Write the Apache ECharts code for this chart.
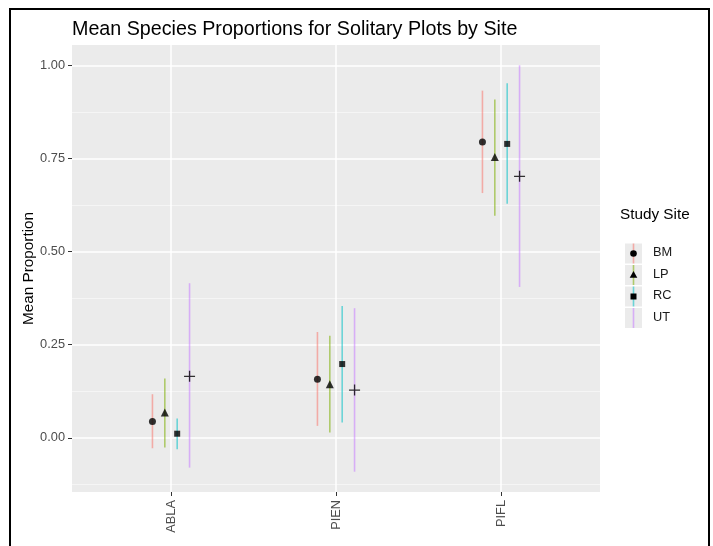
<!DOCTYPE html>
<html>
<head>
<meta charset="utf-8">
<script src="https://cdn.jsdelivr.net/npm/echarts@6/dist/echarts.min.js"></script>
<style>html,body{margin:0;padding:0;background:#fff}#c{width:713px;height:546px}</style>
</head>
<body>
<div id="c"></div>
<script>
const categories = ['ABLA', 'PIEN', 'PIFL'];
const sites = ['BM', 'LP', 'RC', 'UT'];
const meanBM = [0.044, 0.157, 0.794];
const lowBM  = [-0.028, 0.032, 0.657];
const highBM = [0.117, 0.284, 0.932];
const meanLP = [0.068, 0.144, 0.754];
const lowLP  = [-0.026, 0.014, 0.596];
const highLP = [0.159, 0.274, 0.908];
const meanRC = [0.011, 0.198, 0.789];
const lowRC  = [-0.031, 0.041, 0.628];
const highRC = [0.052, 0.354, 0.952];
const meanUT = [0.165, 0.128, 0.702];
const lowUT  = [-0.080, -0.091, 0.405];
const highUT = [0.415, 0.348, 1.000];
const yTicks = [0, 0.25, 0.5, 0.75, 1];
const yMinorTicks = [-0.125, 0.125, 0.375, 0.625, 0.875];

const means = [meanBM, meanLP, meanRC, meanUT];
const lows = [lowBM, lowLP, lowRC, lowUT];
const highs = [highBM, highLP, highRC, highUT];
const colors = ['rgba(248,118,109,0.55)', 'rgba(124,174,0,0.55)', 'rgba(0,191,196,0.55)', 'rgba(199,124,255,0.55)'];
const dodge = [-0.1125, -0.0375, 0.0375, 0.1125];
const plusPath = 'path://M0,4.4H10V5.6H0Z M4.4,0H5.6V10H4.4Z';
const symbols = ['circle', 'triangle', 'rect', plusPath];
const symbolSizes = [7, 8, 6, 11];
const FONT = 'Liberation Sans, Arial, sans-serif';

const series = [];
sites.forEach((s, i) => {
  series.push({
    name: s + ' range',
    type: 'custom',
    z: 2,
    data: categories.map((c, j) => [j + 1, lows[i][j], highs[i][j]]),
    encode: { x: 0, y: [1, 2] },
    renderItem: function (params, api) {
      const x = api.value(0) + dodge[i];
      const p1 = api.coord([x, api.value(1)]);
      const p2 = api.coord([x, api.value(2)]);
      return {
        type: 'line',
        shape: { x1: p1[0], y1: p1[1], x2: p2[0], y2: p2[1] },
        style: { stroke: colors[i], lineWidth: 1.6 }
      };
    }
  });
});
sites.forEach((s, i) => {
  series.push({
    name: s,
    type: 'scatter',
    z: 3,
    symbol: symbols[i],
    symbolSize: symbolSizes[i],
    itemStyle: { color: '#000' },
    data: categories.map((c, j) => [j + 1 + dodge[i], means[i][j]])
  });
});

// legend drawn as graphic
const legendGraphics = [
  { type: 'text', left: 620, top: 207, style: { text: 'Study Site', font: '15.3px ' + FONT, fill: '#000' } }
];
const keyX = 625, keyW = 17, keyH = 20, rowH = 21.5, firstTop = 243.5;
sites.forEach((s, i) => {
  const top = firstTop + i * rowH;
  const cx = keyX + keyW / 2, cy = top + keyH / 2;
  legendGraphics.push({ type: 'rect', shape: { x: keyX, y: top, width: keyW, height: keyH }, style: { fill: '#EBEBEB' }, z: 1 });
  legendGraphics.push({ type: 'line', shape: { x1: cx, y1: top, x2: cx, y2: top + keyH }, style: { stroke: colors[i], lineWidth: 1.6 }, z: 2 });
  let sym;
  if (i === 0) sym = { type: 'circle', shape: { cx: cx, cy: cy, r: 3.3 }, style: { fill: '#000' }, z: 3 };
  else if (i === 1) sym = { type: 'polygon', shape: { points: [[cx, cy - 4], [cx - 3.8, cy + 2.8], [cx + 3.8, cy + 2.8]] }, style: { fill: '#000' }, z: 3 };
  else if (i === 2) sym = { type: 'rect', shape: { x: cx - 3, y: cy - 3, width: 6, height: 6 }, style: { fill: '#000' }, z: 3 };
  else sym = { type: 'group', z: 3, children: [
    { type: 'line', shape: { x1: cx - 5, y1: cy, x2: cx + 5, y2: cy }, style: { stroke: '#000', lineWidth: 1.2 } },
    { type: 'line', shape: { x1: cx, y1: cy - 5, x2: cx, y2: cy + 5 }, style: { stroke: '#000', lineWidth: 1.2 } }
  ] };
  legendGraphics.push(sym);
  legendGraphics.push({ type: 'text', left: 653, top: cy - 7.5, style: { text: s, font: '12.8px ' + FONT, fill: '#1A1A1A' }, z: 3 });
});
// outer frame of screenshot
legendGraphics.push({ type: 'rect', shape: { x: 10, y: 9, width: 699, height: 560 }, style: { fill: 'none', stroke: '#000', lineWidth: 2 }, z: 10, silent: true });

const chart = echarts.init(document.getElementById('c'), null, { renderer: 'canvas' });
chart.setOption({
  animation: false,
  backgroundColor: '#fff',
  title: {
    text: 'Mean Species Proportions for Solitary Plots by Site',
    left: 67, top: 15,
    textStyle: { fontFamily: FONT, fontSize: 19.7, fontWeight: 'normal', color: '#000' }
  },
  grid: {
    left: 72, right: 113, top: 45, bottom: 54,
    show: true, backgroundColor: '#EBEBEB', borderWidth: 0
  },
  xAxis: {
    type: 'value', min: 0.4, max: 3.6,
    axisLine: { show: false, onZero: false },
    axisTick: { show: true, length: 4, lineStyle: { color: '#333333', width: 1 }, customValues: [1, 2, 3] },
    axisLabel: {
      customValues: [1, 2, 3], rotate: 90, margin: 8,
      formatter: v => categories[Math.round(v) - 1],
      fontFamily: FONT, fontSize: 12.8, color: '#4D4D4D'
    },
    splitLine: { show: true, lineStyle: { color: '#FFFFFF', width: 1.5 } }
  },
  yAxis: [{
    type: 'value', min: -0.1455, max: 1.0545,
    name: 'Mean Proportion', nameLocation: 'middle', nameGap: 36, nameMoveOverlap: false,
    nameTextStyle: { fontFamily: FONT, fontSize: 15.3, color: '#000' },
    axisLine: { show: false, onZero: false },
    axisTick: { show: true, length: 4, lineStyle: { color: '#333333', width: 1 }, customValues: yTicks },
    axisLabel: {
      customValues: yTicks, margin: 7,
      formatter: v => v.toFixed(2),
      fontFamily: FONT, fontSize: 12.8, color: '#4D4D4D'
    },
    splitLine: { show: true, lineStyle: { color: '#FFFFFF', width: 1.5 } }
  }, {
    type: 'value', min: -0.1455, max: 1.0545, position: 'left',
    axisLine: { show: false, onZero: false },
    axisTick: { show: false, customValues: yMinorTicks },
    axisLabel: { show: false, customValues: yMinorTicks },
    splitLine: { show: true, lineStyle: { color: '#F7F7F7', width: 0.8 } }
  }],
  graphic: legendGraphics,
  series: series
});
</script>
</body>
</html>
